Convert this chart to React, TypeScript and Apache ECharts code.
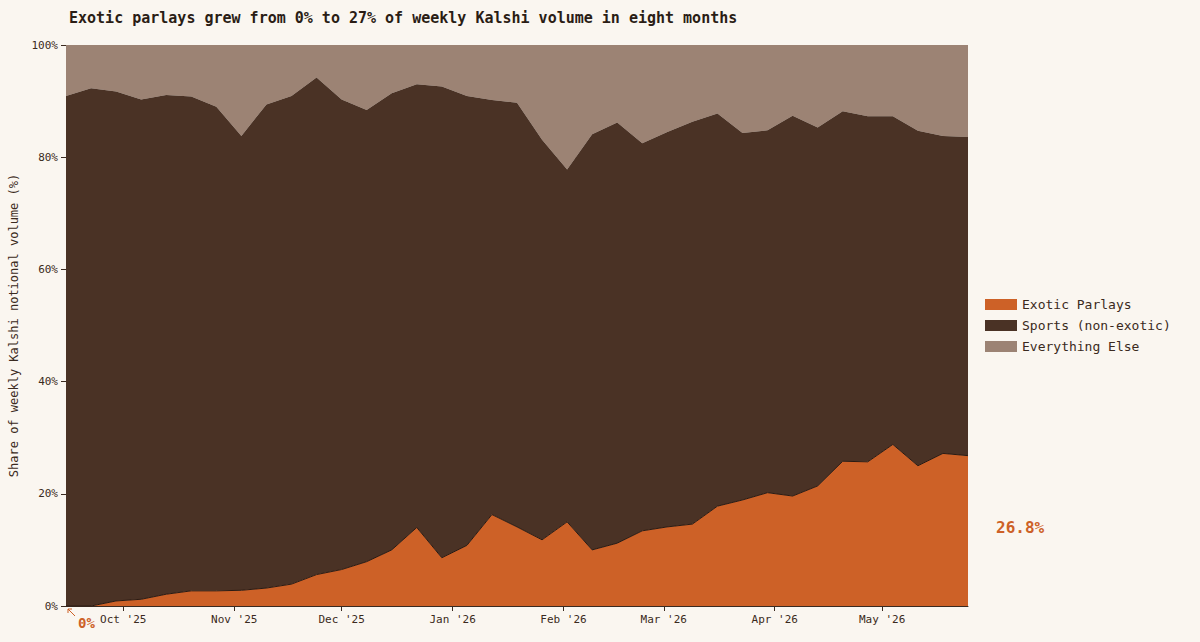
import React, { useEffect, useRef } from 'react'
import * as echarts from 'echarts'

// weekly points, days since Sep 15 2025
const weeks = Array.from({ length: 37 }, (_, i) => String(i * 7))
const exotic = [0, 0, 0.9, 1.2, 2.1, 2.7, 2.7, 2.8, 3.2, 3.9, 5.6, 6.5, 7.9, 10.0, 14.0, 8.6, 10.8, 16.3, 14.1, 11.8, 15.0, 10.0, 11.2, 13.4, 14.1, 14.6, 17.8, 18.9, 20.2, 19.6, 21.4, 25.8, 25.7, 28.8, 25.0, 27.2, 26.8]
const sports = [90.9, 92.3, 90.8, 89.1, 89.0, 88.1, 86.3, 81.0, 86.2, 87.0, 88.6, 83.8, 80.5, 81.4, 79.0, 84.0, 80.1, 73.9, 75.6, 71.3, 62.8, 74.1, 75.0, 69.1, 70.4, 71.7, 70.0, 65.4, 64.6, 67.8, 63.9, 62.4, 61.6, 58.5, 59.7, 56.6, 56.8]
const everythingElse = [9.1, 7.7, 8.3, 9.7, 8.9, 9.2, 11.0, 16.2, 10.6, 9.1, 5.8, 9.7, 11.6, 8.6, 7.0, 7.4, 9.1, 9.8, 10.3, 16.9, 22.2, 15.9, 13.8, 17.5, 15.5, 13.7, 12.2, 15.7, 15.2, 12.6, 14.7, 11.8, 12.7, 12.7, 15.3, 16.2, 16.4]
const monthTicks = [16, 47, 77, 108, 139, 167, 198, 228]
const monthLabels = ["Oct '25", "Nov '25", "Dec '25", "Jan '26", "Feb '26", "Mar '26", "Apr '26", "May '26"]

const FONT = 'DejaVu Sans Mono'
const TEXT = '#3a2a20'

const App = () => {
  const chartRef = useRef(null)

  useEffect(() => {
    document.body.style.margin = '0'
    const chart = echarts.init(chartRef.current, null, { renderer: 'svg' })
    const mk = (name, data, color, extra = {}) => ({
      name,
      type: 'line',
      stack: 'total',
      symbol: 'none',
      data,
      lineStyle: { width: 0 },
      areaStyle: { color, opacity: 1 },
      itemStyle: { color },
      ...extra,
    })
    chart.setOption({
      animation: false,
      backgroundColor: '#faf6f0',
      textStyle: { fontFamily: FONT },
      title: {
        text: 'Exotic parlays grew from 0% to 27% of weekly Kalshi volume in eight months',
        left: 64,
        top: 5,
        textStyle: { fontFamily: FONT, fontSize: 15, fontWeight: 'bold', color: '#2a1d15' },
      },
      grid: { left: 66, right: 232, top: 45, bottom: 36 },
      legend: {
        orient: 'vertical',
        left: 980,
        top: 293,
        itemWidth: 32,
        itemHeight: 11,
        itemGap: 8,
        icon: 'rect',
        data: ['Exotic Parlays', 'Sports (non-exotic)', 'Everything Else'],
        textStyle: { fontFamily: FONT, fontSize: 13, color: TEXT },
      },
      xAxis: [
        {
          type: 'category',
          data: weeks,
          boundaryGap: false,
          axisLine: { lineStyle: { color: '#3a2a20' } },
          axisTick: { show: false },
          axisLabel: { show: false },
          splitLine: { show: false },
        },
        {
          type: 'value',
          position: 'bottom',
          min: 0,
          max: 252,
          axisLine: { show: false },
          splitLine: { show: false },
          axisTick: { customValues: monthTicks, length: 5, lineStyle: { color: '#3a2a20' } },
          axisLabel: {
            customValues: monthTicks,
            formatter: (v) => monthLabels[monthTicks.indexOf(Math.round(v))] ?? '',
            fontFamily: FONT,
            fontSize: 11,
            color: TEXT,
          },
        },
      ],
      yAxis: {
        type: 'value',
        min: 0,
        max: 100,
        interval: 20,
        name: 'Share of weekly Kalshi notional volume (%)',
        nameLocation: 'middle',
        nameGap: 46,
        nameTextStyle: { fontFamily: FONT, fontSize: 12, color: TEXT },
        axisLine: { show: false },
        axisTick: { show: true, length: 5, lineStyle: { color: '#3a2a20' } },
        axisLabel: { formatter: '{value}%', fontFamily: FONT, fontSize: 11, color: TEXT },
        splitLine: { show: true, lineStyle: { color: 'rgba(140,100,70,0.35)', width: 1 } },
      },
      series: [
        mk('Exotic Parlays', exotic, '#cd6127', {
          lineStyle: { width: 1, color: '#2a1a12' },
          z: 3,
          endLabel: {
            show: true,
            formatter: (p) => Number(p.value).toFixed(1) + '%',
            offset: [20, 72],
            fontFamily: FONT,
            fontSize: 16,
            fontWeight: 'bold',
            color: '#cd6127',
          },
        }),
        mk('Sports (non-exotic)', sports, '#4a3225', { z: 2 }),
        mk('Everything Else', everythingElse, '#9c8374', { z: 1 }),
      ],
      graphic: [
        {
          type: 'text',
          left: 78,
          top: 616,
          style: { text: '0%', fontFamily: FONT, fontSize: 14, fontWeight: 'bold', fill: '#cd6127' },
        },
        {
          type: 'polyline',
          shape: { points: [[68, 609], [75, 616]] },
          style: { stroke: '#cd6127', lineWidth: 1, fill: 'none' },
        },
        {
          type: 'polyline',
          shape: { points: [[68, 613], [68, 609], [72, 609]] },
          style: { stroke: '#cd6127', lineWidth: 1, fill: 'none' },
        },
      ],
    })
    return () => chart.dispose()
  }, [])

  return <div ref={chartRef} style={{ width: '1200px', height: '642px' }} />
}

export default App
